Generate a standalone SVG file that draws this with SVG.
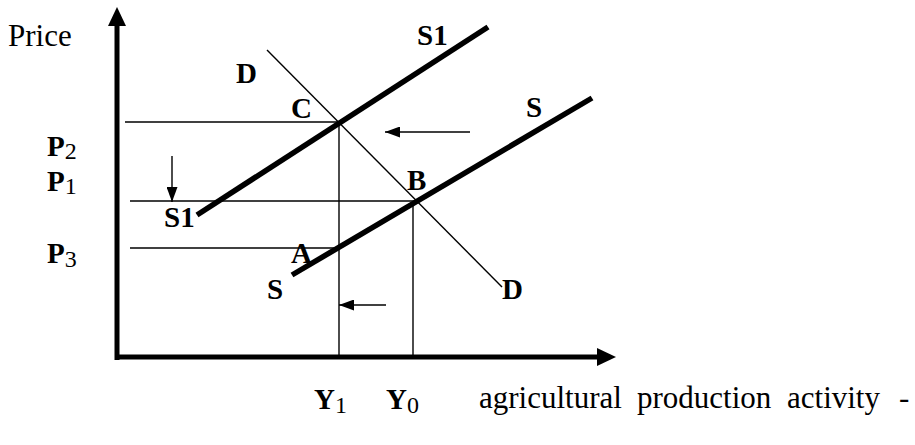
<svg xmlns="http://www.w3.org/2000/svg" width="915" height="445" viewBox="0 0 915 445">
<style>
.lbl{font-family:"Liberation Serif","Times New Roman",serif;font-weight:bold;font-size:29px;fill:#000}
.sub{font-weight:normal;font-size:24px}
.txt{font-family:"Liberation Serif","Times New Roman",serif;font-size:31px;fill:#000}
.thin{stroke:#000;stroke-width:1.4;fill:none}
.thick{stroke:#000;stroke-width:5.5;fill:none}
.axis{stroke:#000;stroke-width:5;fill:none}
</style>
<defs>
<marker id="ah" markerWidth="15" markerHeight="11" refX="15" refY="5.5" orient="auto" markerUnits="userSpaceOnUse" viewBox="0 0 15 11"><path d="M0,0 L15,5.5 L0,11 z" fill="#000"/></marker>
</defs>
<g id="axes">
<line class="axis" x1="117" y1="360" x2="117" y2="22"/>
<path d="M117,7 L108,26 L126,26 z" fill="#000"/>
<line class="axis" x1="115" y1="357" x2="600" y2="357"/>
<path d="M616,357 L597,348 L597,366 z" fill="#000"/>
<text class="txt" x="8" y="46">Price</text>
<text class="txt" y="408"><tspan x="479">agricultural</tspan><tspan x="637">production</tspan><tspan x="787">activity</tspan><tspan x="899">-</tspan></text>
</g>
<g id="connectors">
<line class="thin" x1="125" y1="122" x2="339" y2="122"/>
<line class="thin" x1="130" y1="201" x2="414" y2="201"/>
<line class="thin" x1="130" y1="248" x2="339" y2="248"/>
<line class="thin" x1="339" y1="122" x2="339" y2="357"/>
<line class="thin" x1="413" y1="201" x2="413" y2="357"/>
<line class="thin" x1="470" y1="132" x2="385" y2="132" marker-end="url(#ah)"/>
<line class="thin" x1="172" y1="156" x2="172" y2="202" marker-end="url(#ah)"/>
<line class="thin" x1="386" y1="305" x2="339" y2="305" marker-end="url(#ah)"/>
</g>
<g id="curve-S1">
<line class="thick" x1="197" y1="215" x2="488" y2="27"/>
<text class="lbl" x="417" y="45">S1</text>
<text class="lbl" x="164" y="227">S1</text>
</g>
<g id="curve-S">
<line class="thick" x1="292" y1="275" x2="592" y2="98"/>
<text class="lbl" x="526" y="117">S</text>
<text class="lbl" x="267" y="299">S</text>
</g>
<g id="curve-D">
<line class="thin" x1="267" y1="50" x2="502" y2="287"/>
<text class="lbl" x="236" y="83">D</text>
<text class="lbl" x="502" y="299">D</text>
</g>
<g id="point-C"><text class="lbl" x="291" y="118">C</text></g>
<g id="point-B"><text class="lbl" x="407" y="190">B</text></g>
<g id="point-A"><text class="lbl" x="291" y="263">A</text></g>
<g id="price-labels">
<text class="lbl" x="47" y="156">P<tspan class="sub" dy="3">2</tspan></text>
<text class="lbl" x="47" y="191">P<tspan class="sub" dy="3">1</tspan></text>
<text class="lbl" x="47" y="263">P<tspan class="sub" dy="4">3</tspan></text>
</g>
<g id="qty-labels">
<text class="lbl" x="314" y="409">Y<tspan class="sub" dy="4">1</tspan></text>
<text class="lbl" x="386" y="409">Y<tspan class="sub" dy="4">0</tspan></text>
</g>
</svg>
